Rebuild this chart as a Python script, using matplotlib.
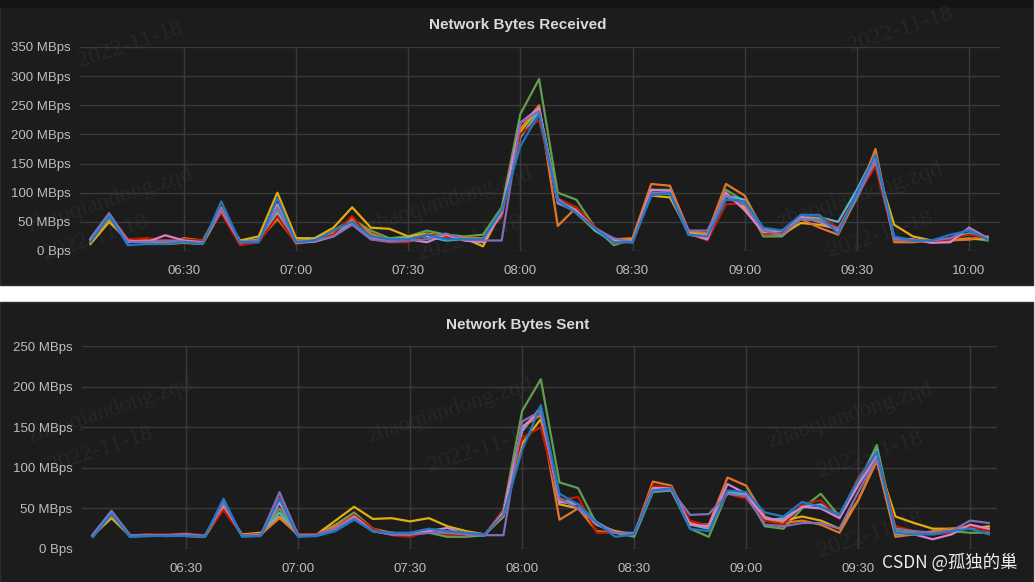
import numpy as np
import pandas as pd
import matplotlib
matplotlib.use("Agg")
import matplotlib.pyplot as plt
from matplotlib.patches import Rectangle
from matplotlib.ticker import FuncFormatter

plt.rcParams["font.family"] = ["Liberation Sans", "DejaVu Sans"]

times = pd.date_range("2022-11-18 06:05", periods=49, freq="5min")

# Network Bytes Received (MBps), one list per host
rx_green = [15, 55, 20, 18, 15, 17, 15, 70, 18, 18, 70, 18, 20, 35, 55, 35, 22, 25, 35, 28, 25, 28, 75, 235, 295,
            100, 88, 40, 10, 20, 105, 105, 28, 22, 105, 85, 25, 25, 55, 55, 35, 90, 160, 18, 18, 16, 18, 22, 18]
rx_yellow = [12, 50, 18, 15, 12, 14, 12, 68, 18, 25, 100, 22, 22, 40, 75, 40, 38, 25, 30, 25, 22, 8, 68, 205, 245,
             90, 65, 35, 18, 20, 95, 92, 32, 28, 95, 75, 30, 28, 48, 45, 38, 95, 150, 45, 25, 18, 20, 20, 22]
rx_cyan = [18, 60, 15, 18, 16, 18, 14, 72, 15, 20, 65, 15, 20, 30, 50, 25, 20, 22, 25, 18, 20, 20, 65, 195, 240,
           88, 70, 35, 15, 18, 100, 98, 28, 25, 95, 88, 38, 30, 58, 58, 50, 105, 168, 22, 18, 15, 22, 30, 22]
rx_orange = [16, 58, 18, 20, 14, 22, 18, 75, 14, 18, 55, 15, 18, 32, 55, 30, 18, 18, 28, 25, 22, 22, 60, 210, 250,
             43, 75, 40, 20, 22, 115, 112, 35, 30, 115, 95, 35, 32, 55, 40, 28, 92, 175, 15, 15, 18, 18, 20, 25]
rx_red = [18, 62, 20, 22, 18, 20, 18, 65, 10, 15, 60, 12, 18, 28, 60, 20, 15, 15, 28, 25, 18, 18, 62, 200, 225,
          90, 75, 40, 15, 15, 98, 100, 30, 18, 80, 82, 30, 30, 62, 60, 40, 95, 145, 20, 18, 15, 20, 28, 22]
rx_magenta = [20, 63, 18, 15, 27, 18, 15, 70, 15, 18, 80, 14, 16, 25, 48, 22, 18, 20, 15, 28, 18, 15, 65, 220, 245,
              82, 68, 38, 18, 15, 105, 103, 30, 20, 100, 70, 32, 35, 58, 50, 35, 98, 160, 22, 20, 14, 15, 40, 22]
rx_purple = [22, 65, 16, 15, 18, 16, 14, 72, 16, 18, 75, 15, 18, 25, 45, 20, 16, 18, 20, 30, 20, 18, 18, 220, 240,
             90, 65, 38, 22, 15, 100, 100, 35, 35, 95, 80, 35, 28, 55, 52, 38, 92, 155, 20, 18, 18, 22, 38, 20]
rx_blue = [15, 60, 10, 12, 12, 15, 12, 85, 15, 15, 90, 15, 18, 35, 50, 25, 20, 20, 28, 20, 20, 20, 70, 180, 235,
           85, 65, 38, 15, 15, 95, 100, 28, 25, 88, 85, 40, 35, 62, 62, 30, 100, 165, 25, 18, 18, 28, 35, 20]

# Network Bytes Sent (MBps)
tx_green = [15, 42, 16, 17, 17, 18, 16, 55, 16, 18, 50, 17, 18, 30, 45, 25, 18, 18, 20, 15, 15, 17, 48, 170, 209,
            82, 75, 30, 20, 15, 70, 72, 25, 15, 70, 70, 28, 25, 50, 68, 40, 80, 128, 22, 20, 20, 22, 20, 20]
tx_yellow = [17, 38, 16, 16, 17, 16, 15, 50, 18, 20, 40, 17, 18, 35, 52, 37, 38, 34, 38, 28, 22, 18, 40, 130, 160,
             55, 50, 30, 22, 18, 75, 72, 32, 28, 70, 65, 35, 35, 40, 35, 25, 60, 110, 40, 32, 25, 25, 25, 28]
tx_cyan = [16, 44, 15, 17, 16, 17, 15, 58, 16, 17, 45, 16, 18, 28, 40, 22, 20, 18, 22, 20, 17, 17, 45, 145, 175,
           62, 55, 33, 20, 17, 72, 72, 30, 25, 70, 68, 35, 38, 52, 55, 42, 85, 122, 18, 18, 20, 20, 28, 22]
tx_orange = [17, 44, 16, 18, 16, 18, 16, 52, 17, 18, 38, 18, 18, 28, 42, 25, 20, 18, 22, 18, 17, 18, 47, 150, 165,
             36, 50, 22, 20, 18, 83, 78, 32, 30, 88, 78, 40, 32, 35, 30, 20, 60, 108, 15, 18, 22, 25, 28, 25]
tx_red = [18, 45, 17, 18, 18, 19, 17, 48, 17, 18, 65, 18, 18, 25, 42, 25, 17, 15, 22, 18, 17, 18, 47, 137, 150,
          60, 64, 20, 20, 18, 78, 76, 35, 28, 68, 62, 35, 30, 55, 60, 38, 88, 118, 28, 22, 18, 20, 28, 22]
tx_magenta = [17, 46, 16, 17, 17, 18, 16, 55, 16, 17, 57, 17, 17, 25, 40, 22, 18, 18, 22, 26, 18, 17, 45, 150, 170,
              58, 55, 30, 20, 18, 75, 75, 30, 28, 80, 68, 38, 35, 52, 50, 38, 78, 115, 20, 18, 12, 18, 30, 25]
tx_purple = [18, 47, 17, 17, 17, 18, 16, 57, 16, 17, 70, 17, 17, 25, 38, 22, 18, 18, 20, 20, 18, 17, 17, 157, 170,
             62, 50, 32, 20, 20, 72, 72, 42, 43, 68, 65, 30, 28, 32, 32, 25, 70, 112, 25, 22, 20, 22, 35, 32]
tx_blue = [15, 43, 15, 16, 16, 16, 15, 62, 15, 16, 62, 15, 16, 22, 36, 22, 20, 20, 25, 22, 20, 18, 42, 122, 177,
           68, 55, 32, 15, 18, 72, 75, 25, 22, 72, 70, 45, 40, 58, 52, 42, 85, 120, 20, 18, 18, 22, 25, 18]

colors = ["#629E51", "#E5AC0E", "#64B0C8", "#E0752D", "#BF1B00", "#D683CE", "#806EB7", "#1F78C1"]
rx_series = [rx_green, rx_yellow, rx_cyan, rx_orange, rx_red, rx_magenta, rx_purple, rx_blue]
tx_series = [tx_green, tx_yellow, tx_cyan, tx_orange, tx_red, tx_magenta, tx_purple, tx_blue]

panel_bg = "#1c1c1c"
grid_c = "#3a3a3a"
text_c = "#bdbdbd"

fig = plt.figure(figsize=(10.35, 5.82), dpi=100, facecolor="white")
W, H = 1035, 582

# dark panels (behind the axes)
fig.patches.append(Rectangle((0, 1 - 285 / H), 1033 / W, 285 / H, transform=fig.transFigure,
                             facecolor=panel_bg, edgecolor="#2c2c2c", lw=1, zorder=-3))
fig.patches.append(Rectangle((0, 1 - 8 / H), 1033 / W, 8 / H, transform=fig.transFigure,
                             facecolor="#141414", edgecolor="none", zorder=-3))
fig.patches.append(Rectangle((0, 0), 1033 / W, 280 / H, transform=fig.transFigure,
                             facecolor=panel_bg, edgecolor="#2c2c2c", lw=1, zorder=-3))

# faint diagonal watermarks
wm = [(130, 45, "2022-11-18"), (900, 30, "2022-11-18"), (110, 200, "zhaoqiandong.zqd"), (95, 238, "2022-11-18"),
      (450, 200, "zhaoqiandong.zqd"), (470, 238, "2022-11-18"), (860, 195, "zhaoqiandong.zqd"),
      (880, 235, "2022-11-18"), (110, 410, "zhaoqiandong.zqd"), (100, 450, "2022-11-18"),
      (450, 410, "zhaoqiandong.zqd"), (480, 450, "2022-11-18"), (850, 415, "zhaoqiandong.zqd"),
      (870, 455, "2022-11-18"), (870, 535, "2022-11-18")]
for px, py, s in wm:
    fig.text(px / W, 1 - py / H, s, rotation=18, fontsize=17, family="Liberation Serif",
             color="#272727", ha="center", va="center", zorder=-2)


def mbps(v, pos):
    return "0 Bps" if v == 0 else f"{v:.0f} MBps"


def draw_panel(rect, series, title, ymax, xlim, title_y, show_last=True):
    ax = fig.add_axes(rect)
    ax.set_facecolor("none")
    for vals, c in zip(series, colors):
        ax.plot(times, vals, color=c, lw=1.6, zorder=3)
    ax.set_ylim(0, ymax)
    ax.set_yticks(np.arange(0, ymax + 1, 50))
    ax.yaxis.set_major_formatter(FuncFormatter(mbps))
    ax.set_xlim(pd.Timestamp(xlim[0]), pd.Timestamp(xlim[1]))
    ticks = pd.date_range("2022-11-18 06:30", "2022-11-18 10:00", freq="30min")
    ax.set_xticks(ticks)
    labels = [t.strftime("%H:%M") for t in ticks]
    if not show_last:
        labels[-1] = ""
    ax.set_xticklabels(labels)
    ax.grid(True, color=grid_c, lw=1.0, zorder=1)
    ax.set_axisbelow(True)
    for s in ax.spines.values():
        s.set_visible(False)
    ax.tick_params(length=0, colors=text_c, labelsize=9.5, pad=7)
    ax.tick_params(axis="x", pad=10)
    fig.text(0.5, 1 - title_y / H, title, ha="center", va="center", fontsize=11,
             fontweight="bold", color="#d8d9da")
    return ax


draw_panel([80 / W, 1 - 251 / H, 920 / W, 204 / H], rx_series, "Network Bytes Received", 350,
           ("2022-11-18 06:02:12", "2022-11-18 10:08:18"), 25)
draw_panel([82 / W, 1 - 549 / H, 915 / W, 203 / H], tx_series, "Network Bytes Sent", 250,
           ("2022-11-18 06:02:06", "2022-11-18 10:07:12"), 325, show_last=False)

fig.text(950 / W, 1 - 563 / H, "CSDN @孤独的巢", ha="center", va="center", fontsize=12.5,
         family=["Noto Sans CJK SC", "DejaVu Sans"], color="#eeeeee", zorder=5)

fig.savefig("out.png", dpi=100, facecolor="white")
